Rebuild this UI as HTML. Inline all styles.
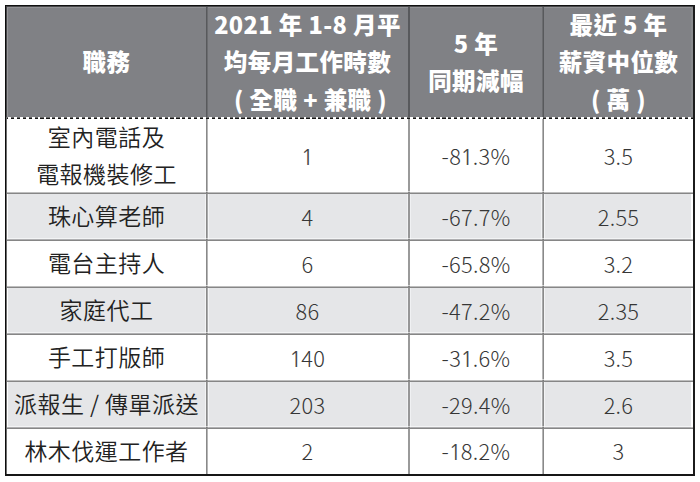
<!DOCTYPE html>
<html lang="zh-Hant">
<head>
<meta charset="utf-8">
<style>
html,body{margin:0;padding:0;background:#fff;}
body{width:700px;height:482px;position:relative;overflow:hidden;}
.abs{position:absolute;}
#hbg{left:7px;top:7px;width:686px;height:110px;background:#808185;}
#dash{left:7px;top:117px;width:686px;height:1px;background:#fff repeating-linear-gradient(90deg,#666 0,#666 1.2px,#fff 1.2px,#fff 3.9px,#666 3.9px,#666 5.91px);}
#dash2{left:7px;top:118px;width:686px;height:1px;background:#fff repeating-linear-gradient(90deg,#151515 0,#151515 1.2px,#fff 1.2px,#fff 3.9px,#151515 3.9px,#151515 5.91px);}
.stripe{left:8px;width:683px;height:46px;background:#e5e6e8;}
.hl{left:7px;width:686px;height:1px;background:#868686;box-shadow:0 -1px 0 rgba(100,100,100,0.42),0 -2px 0 rgba(255,255,255,0.55);}
.vl{width:1px;background:#898989;}
.vl2{width:1px;background:rgba(110,110,110,0.5);}
.vh{width:1px;background:#58595c;}
.vh2{width:1px;background:#6b6c6f;}
.cell{display:flex;align-items:center;justify-content:center;text-align:center;}
.h{color:#fff;font-family:"Noto Sans CJK TC",sans-serif;font-weight:900;font-size:23.5px;letter-spacing:0.4px;line-height:37.5px;}
.h i{font-style:normal;font-weight:900;}
.hc{font-family:"Noto Sans CJK TC",sans-serif;}
.b{color:#222;font-family:"Noto Sans CJK TC",sans-serif;font-weight:350;font-size:23px;letter-spacing:0.45px;line-height:37.5px;}
.b>div,.b>span{position:relative;top:-1px;}
.n{color:#363636;font-family:"Noto Sans CJK TC",sans-serif;font-weight:300;font-size:21.8px;}
.n .o{font-family:"NanumGothic","Noto Sans CJK TC",sans-serif;font-weight:400;color:#474747;letter-spacing:-0.75px;margin-left:-0.8px;}
.n span{display:inline-block;position:relative;top:-1px;letter-spacing:0.3px;}
</style>
</head>
<body>
<div class="abs" id="hbg"></div>
<div class="abs" style="left:7px;top:7px;width:1px;height:110px;background:#97979a"></div>
<div class="abs" style="left:7px;top:7px;width:686px;height:1px;background:#929295"></div>
<div class="abs" style="left:691px;top:7px;width:2px;height:110px;background:#88898c"></div>
<!-- stripes -->
<div class="abs stripe" style="top:194px"></div>
<div class="abs stripe" style="top:288px"></div>
<div class="abs stripe" style="top:382px"></div>
<!-- column lines: header -->
<div class="abs vh" style="left:206px;top:7px;height:110px"></div>
<div class="abs vh2" style="left:207px;top:7px;height:110px"></div>
<div class="abs vh" style="left:408px;top:7px;height:110px"></div>
<div class="abs vh" style="left:409px;top:7px;height:110px"></div>
<div class="abs vh" style="left:543px;top:7px;height:110px"></div>
<div class="abs vh2" style="left:542px;top:7px;height:110px"></div>
<!-- column lines: body -->
<div class="abs vl" style="left:206px;top:119px;height:355px;box-shadow:-1px 0 0 rgba(255,255,255,.55),2px 0 0 rgba(255,255,255,.55)"></div>
<div class="abs vl2" style="left:207px;top:119px;height:355px"></div>
<div class="abs vl" style="left:408px;top:119px;height:355px;opacity:.85;box-shadow:-1px 0 0 rgba(255,255,255,.55)"></div>
<div class="abs vl" style="left:409px;top:119px;height:355px;opacity:.85;box-shadow:1px 0 0 rgba(255,255,255,.55)"></div>
<div class="abs vl" style="left:543px;top:119px;height:355px;box-shadow:1px 0 0 rgba(255,255,255,.55),-2px 0 0 rgba(255,255,255,.55)"></div>
<div class="abs vl2" style="left:542px;top:119px;height:355px"></div>
<!-- row lines -->
<div class="abs hl" style="top:193px"></div>
<div class="abs hl" style="top:240px"></div>
<div class="abs hl" style="top:287px"></div>
<div class="abs hl" style="top:334px"></div>
<div class="abs hl" style="top:381px"></div>
<div class="abs hl" style="top:428px"></div>
<div class="abs" id="dash"></div>
<div class="abs" id="dash2"></div>
<!-- frame -->
<div class="abs" style="left:5px;top:5px;width:690px;height:1px;background:#111"></div>
<div class="abs" style="left:6px;top:6px;width:687px;height:1px;background:#48484a"></div>
<div class="abs" style="left:5px;top:5px;width:1px;height:471px;background:#0d0d0d"></div>
<div class="abs" style="left:6px;top:6px;width:1px;height:111px;background:#454547"></div>
<div class="abs" style="left:6px;top:117px;width:1px;height:357px;background:#6e6e6e"></div>
<div class="abs" style="left:693px;top:5px;width:2px;height:471px;background:#1b1b1b"></div>
<div class="abs" style="left:5px;top:474px;width:690px;height:2px;background:#161616"></div>

<!-- header -->
<div class="abs cell h hc" style="left:7px;top:7px;width:199px;height:110px;">職務</div>
<div class="abs cell h" style="left:207px;top:7px;width:201px;height:110px;"><div>2021 年 1-8 月平<br>均每月工作時數<br><span style="position:relative;left:3px"><i>(</i> 全職 + 兼職 <i>)</i></span></div></div>
<div class="abs cell h" style="left:409px;top:7px;width:134px;height:110px;"><div>5 年<br>同期減幅</div></div>
<div class="abs cell h" style="left:544px;top:7px;width:149px;height:110px;"><div>最近 5 年<br>薪資中位數<br><i>(</i> 萬 <i>)</i></div></div>

<!-- rows -->
<div class="abs cell b" style="left:7px;top:119px;width:199px;height:74px;"><div>室內電話及<br>電報機裝修工</div></div>
<div class="abs cell n" style="left:207px;top:119px;width:201px;height:74px;"><span><b class="o">1</b></span></div>
<div class="abs cell n" style="left:409px;top:119px;width:134px;height:74px;"><span>-8<b class="o">1</b>.3%</span></div>
<div class="abs cell n" style="left:544px;top:119px;width:149px;height:74px;"><span>3.5</span></div>

<div class="abs cell b" style="left:7px;top:194px;width:199px;height:46px;"><span>珠心算老師</span></div>
<div class="abs cell n" style="left:207px;top:194px;width:201px;height:46px;"><span>4</span></div>
<div class="abs cell n" style="left:409px;top:194px;width:134px;height:46px;"><span>-67.7%</span></div>
<div class="abs cell n" style="left:544px;top:194px;width:149px;height:46px;"><span>2.55</span></div>

<div class="abs cell b" style="left:7px;top:241px;width:199px;height:46px;"><span>電台主持人</span></div>
<div class="abs cell n" style="left:207px;top:241px;width:201px;height:46px;"><span>6</span></div>
<div class="abs cell n" style="left:409px;top:241px;width:134px;height:46px;"><span>-65.8%</span></div>
<div class="abs cell n" style="left:544px;top:241px;width:149px;height:46px;"><span>3.2</span></div>

<div class="abs cell b" style="left:7px;top:288px;width:199px;height:46px;"><span>家庭代工</span></div>
<div class="abs cell n" style="left:207px;top:288px;width:201px;height:46px;"><span>86</span></div>
<div class="abs cell n" style="left:409px;top:288px;width:134px;height:46px;"><span>-47.2%</span></div>
<div class="abs cell n" style="left:544px;top:288px;width:149px;height:46px;"><span>2.35</span></div>

<div class="abs cell b" style="left:7px;top:335px;width:199px;height:46px;"><span>手工打版師</span></div>
<div class="abs cell n" style="left:207px;top:335px;width:201px;height:46px;"><span><b class="o">1</b>40</span></div>
<div class="abs cell n" style="left:409px;top:335px;width:134px;height:46px;"><span>-3<b class="o">1</b>.6%</span></div>
<div class="abs cell n" style="left:544px;top:335px;width:149px;height:46px;"><span>3.5</span></div>

<div class="abs cell b" style="left:7px;top:382px;width:199px;height:46px;"><span>派報生 / 傳單派送</span></div>
<div class="abs cell n" style="left:207px;top:382px;width:201px;height:46px;"><span>203</span></div>
<div class="abs cell n" style="left:409px;top:382px;width:134px;height:46px;"><span>-29.4%</span></div>
<div class="abs cell n" style="left:544px;top:382px;width:149px;height:46px;"><span>2.6</span></div>

<div class="abs cell b" style="left:7px;top:429px;width:199px;height:45px;"><span>林木伐運工作者</span></div>
<div class="abs cell n" style="left:207px;top:429px;width:201px;height:45px;"><span>2</span></div>
<div class="abs cell n" style="left:409px;top:429px;width:134px;height:45px;"><span>-<b class="o">1</b>8.2%</span></div>
<div class="abs cell n" style="left:544px;top:429px;width:149px;height:45px;"><span>3</span></div>
</body>
</html>
